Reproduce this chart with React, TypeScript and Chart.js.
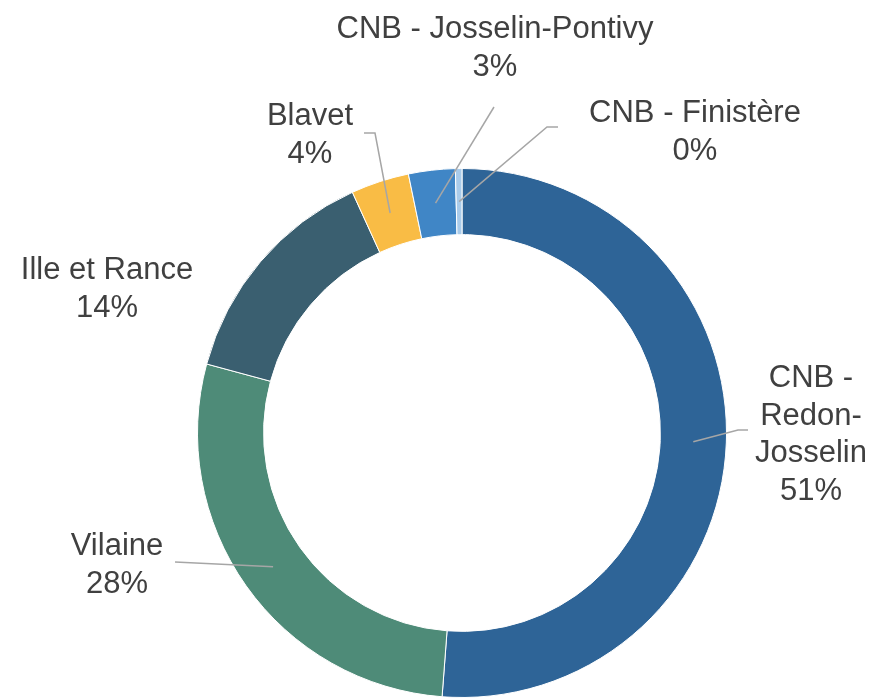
import React, { useEffect, useRef } from "react";
import { Chart, registerables } from "chart.js";

Chart.register(...registerables);

const categories = [
  "CNB - Redon-Josselin",
  "Vilaine",
  "Ille et Rance",
  "Blavet",
  "CNB - Josselin-Pontivy",
  "CNB - Finistère",
];
const values = [51.2, 28.0, 14.0, 3.55, 2.85, 0.4];
const colors = ["#2E6497", "#4E8B78", "#3A5F70", "#F9BC45", "#4086C6", "#A9CBEA"];

// label placement (text centre x, first baseline y, leader elbow/end points)
const labelLayout = [
  { x: 811, y: 387, leader: [[738, 430], [748, 430]], maxWidth: 120 },
  { x: 117, y: 555, leader: [[175, 562]], maxWidth: Infinity },
  { x: 107, y: 279, leader: null, maxWidth: Infinity },
  { x: 310, y: 125, leader: [[375, 133], [364, 133]], maxWidth: Infinity },
  { x: 495, y: 38, leader: [[494, 107]], maxWidth: Infinity },
  { x: 695, y: 122, leader: [[547, 127], [558, 127]], maxWidth: Infinity },
];

const FONT = "31px 'Liberation Sans', Arial, sans-serif";
const LINE_H = 37.5;

function wrap(ctx: CanvasRenderingContext2D, text: string, maxWidth: number): string[] {
  if (!isFinite(maxWidth)) return [text];
  const tokens = text.match(/[^\s-]+-?\s*|-\s*/g) || [text];
  const lines: string[] = [];
  let cur = "";
  for (const t of tokens) {
    const test = cur + t;
    if (cur && ctx.measureText(test.trim()).width > maxWidth) {
      lines.push(cur.trim());
      cur = t;
    } else cur = test;
  }
  if (cur.trim()) lines.push(cur.trim());
  return lines;
}

const labelPlugin = {
  id: "sliceLabels",
  afterDraw(chart: any) {
    const ctx = chart.ctx as CanvasRenderingContext2D;
    const meta = chart.getDatasetMeta(0);
    const data = chart.data.datasets[0].data as number[];
    const total = data.reduce((a, b) => a + b, 0);
    ctx.save();
    meta.data.forEach((arc: any, i: number) => {
      const lay = labelLayout[i];
      const p = arc.getProps(["x", "y", "startAngle", "endAngle", "innerRadius", "outerRadius"], true);
      const mid = (p.startAngle + p.endAngle) / 2;
      const r = (p.innerRadius + p.outerRadius) / 2;
      if (lay.leader) {
        ctx.strokeStyle = "#A6A6A6";
        ctx.lineWidth = 1.5;
        ctx.beginPath();
        ctx.moveTo(p.x + Math.cos(mid) * r, p.y + Math.sin(mid) * r);
        lay.leader.forEach((pt) => ctx.lineTo(pt[0], pt[1]));
        ctx.stroke();
      }
      ctx.font = FONT;
      ctx.fillStyle = "#404040";
      ctx.textAlign = "center";
      ctx.textBaseline = "alphabetic";
      const lines = wrap(ctx, chart.data.labels[i], lay.maxWidth);
      lines.push(Math.round((data[i] / total) * 100) + "%");
      lines.forEach((ln, k) => ctx.fillText(ln, lay.x, lay.y + k * LINE_H));
    });
    ctx.restore();
  },
};

export default function App() {
  const ref = useRef<HTMLCanvasElement>(null);
  useEffect(() => {
    document.body.style.margin = "0";
    const chart = new Chart(ref.current!, {
      type: "doughnut",
      data: {
        labels: categories,
        datasets: [
          {
            data: values,
            backgroundColor: colors,
            borderColor: "#FFFFFF",
            borderWidth: 1,
          },
        ],
      },
      options: {
        responsive: false,
        animation: false,
        devicePixelRatio: 1,
        cutout: "75%",
        layout: { padding: { left: 197, right: 145, top: 168, bottom: 0 } },
        plugins: { legend: { display: false }, tooltip: { enabled: false } },
      },
      plugins: [labelPlugin],
    });
    return () => chart.destroy();
  }, []);
  return (
    <div style={{ width: 872, height: 698, background: "#FFFFFF" }}>
      <canvas ref={ref} width={872} height={698} />
    </div>
  );
}
